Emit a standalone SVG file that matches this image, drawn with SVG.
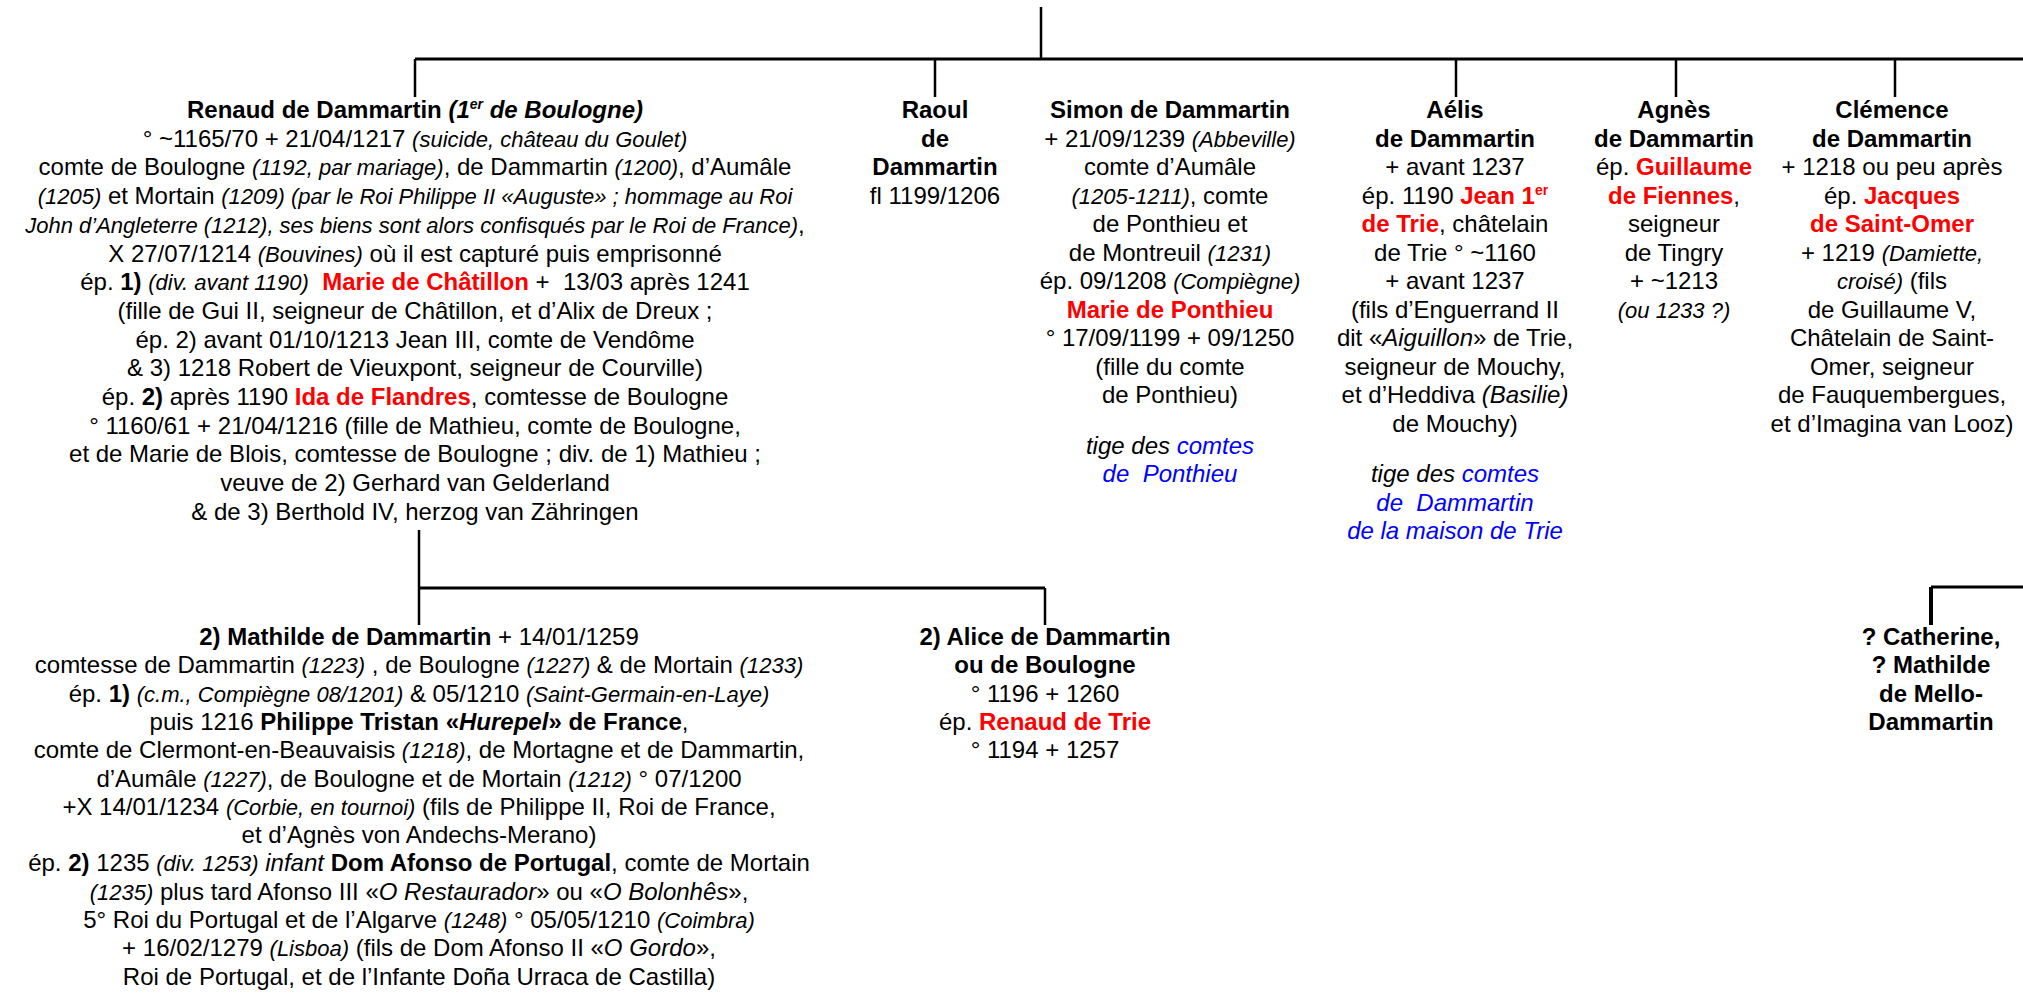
<svg xmlns="http://www.w3.org/2000/svg" width="2023" height="995" viewBox="0 0 2023 995">
<style>
text{font-family:"Liberation Sans",Arial,sans-serif;font-size:24px;text-anchor:middle;fill:#000}
.b{font-weight:bold}
.s{font-style:italic;font-size:22px}
.i{font-style:italic}
.r{fill:#f00;font-weight:bold}
.u{fill:#00f;font-style:italic}
.sup{font-size:14px}
.pre{white-space:pre}
.ln{stroke:#000;fill:none;stroke-width:2.5}
.h{stroke-width:3}
</style>
<rect width="2023" height="995" fill="#fff"/>
<g id="connectors">
<path class="ln" d="M1041 7V59"/>
<path class="ln h" d="M415 59H2023"/>
<path class="ln" d="M415 59V97M935 59V97M1456 59V97M1676 59V97M1895 59V97"/>
<path class="ln" d="M419 530V625M1045 588V625"/>
<path class="ln h" d="M419 588H1045"/>
<path class="ln h" d="M1931 587H2023"/>
<path class="ln" style="stroke-width:4" d="M1931 587V625"/>
</g>
<g id="renaud">
<text x="415" y="118" class="b">Renaud de Dammartin <tspan class="i">(1<tspan class="sup" dy="-9">er</tspan><tspan dy="9"> de Boulogne)</tspan></tspan></text>
<text x="415" y="146.7">° ~1165/70 + 21/04/1217 <tspan class="s">(suicide, château du Goulet)</tspan></text>
<text x="415" y="175.4">comte de Boulogne <tspan class="s">(1192, par mariage)</tspan>, de Dammartin <tspan class="s">(1200)</tspan>, d’Aumâle</text>
<text x="415" y="204.1"><tspan class="s">(1205)</tspan> et Mortain <tspan class="s">(1209) (par le Roi Philippe II «Auguste» ; hommage au Roi</tspan></text>
<text x="415" y="232.8"><tspan class="s">John d’Angleterre (1212), ses biens sont alors confisqués par le Roi de France)</tspan>,</text>
<text x="415" y="261.5">X 27/07/1214 <tspan class="s">(Bouvines)</tspan> où il est capturé puis emprisonné</text>
<text x="415" y="290.2" class="pre">ép. <tspan class="b">1)</tspan> <tspan class="s">(div. avant 1190)</tspan>  <tspan class="r">Marie de Châtillon</tspan> +  13/03 après 1241</text>
<text x="415" y="318.9">(fille de Gui II, seigneur de Châtillon, et d’Alix de Dreux ;</text>
<text x="415" y="347.6">ép. 2) avant 01/10/1213 Jean III, comte de Vendôme</text>
<text x="415" y="376.3">&amp; 3) 1218 Robert de Vieuxpont, seigneur de Courville)</text>
<text x="415" y="405">ép. <tspan class="b">2)</tspan> après 1190 <tspan class="r">Ida de Flandres</tspan>, comtesse de Boulogne</text>
<text x="415" y="433.7">° 1160/61 + 21/04/1216 (fille de Mathieu, comte de Boulogne,</text>
<text x="415" y="462.4">et de Marie de Blois, comtesse de Boulogne ; div. de 1) Mathieu ;</text>
<text x="415" y="491.1">veuve de 2) Gerhard van Gelderland</text>
<text x="415" y="519.8">&amp; de 3) Berthold IV, herzog van Zähringen</text>
</g>
<g id="raoul">
<text x="935" y="118" class="b">Raoul</text>
<text x="935" y="146.5" class="b">de</text>
<text x="935" y="175" class="b">Dammartin</text>
<text x="935" y="203.5">fl 1199/1206</text>
</g>
<g id="simon">
<text x="1170" y="118" class="b">Simon de Dammartin</text>
<text x="1170" y="146.5">+ 21/09/1239 <tspan class="s">(Abbeville)</tspan></text>
<text x="1170" y="175">comte d’Aumâle</text>
<text x="1170" y="203.5"><tspan class="s">(1205-1211)</tspan>, comte</text>
<text x="1170" y="232">de Ponthieu et</text>
<text x="1170" y="260.5">de Montreuil <tspan class="s">(1231)</tspan></text>
<text x="1170" y="289">ép. 09/1208 <tspan class="s">(Compiègne)</tspan></text>
<text x="1170" y="317.5" class="r">Marie de Ponthieu</text>
<text x="1170" y="346">° 17/09/1199 + 09/1250</text>
<text x="1170" y="374.5">(fille du comte</text>
<text x="1170" y="403">de Ponthieu)</text>
<text x="1170" y="454" class="i">tige des <tspan class="u">comtes</tspan></text>
<text x="1170" y="482" class="u pre">de  Ponthieu</text>
</g>
<g id="aelis">
<text x="1455" y="118" class="b">Aélis</text>
<text x="1455" y="146.5" class="b">de Dammartin</text>
<text x="1455" y="175">+ avant 1237</text>
<text x="1455" y="203.5">ép. 1190 <tspan class="r">Jean 1<tspan class="sup" dy="-9">er</tspan></tspan></text>
<text x="1455" y="232"><tspan class="r">de Trie</tspan>, châtelain</text>
<text x="1455" y="260.5">de Trie ° ~1160</text>
<text x="1455" y="289">+ avant 1237</text>
<text x="1455" y="317.5">(fils d’Enguerrand II</text>
<text x="1455" y="346">dit «<tspan class="i">Aiguillon</tspan>» de Trie,</text>
<text x="1455" y="374.5">seigneur de Mouchy,</text>
<text x="1455" y="403">et d’Heddiva <tspan class="i">(Basilie)</tspan></text>
<text x="1455" y="431.5">de Mouchy)</text>
<text x="1455" y="482" class="i">tige des <tspan class="u">comtes</tspan></text>
<text x="1455" y="510.5" class="u pre">de  Dammartin</text>
<text x="1455" y="539" class="u">de la maison de Trie</text>
</g>
<g id="agnes">
<text x="1674" y="118" class="b">Agnès</text>
<text x="1674" y="146.5" class="b">de Dammartin</text>
<text x="1674" y="175">ép. <tspan class="r">Guillaume</tspan></text>
<text x="1674" y="203.5"><tspan class="r">de Fiennes</tspan>,</text>
<text x="1674" y="232">seigneur</text>
<text x="1674" y="260.5">de Tingry</text>
<text x="1674" y="289">+ ~1213</text>
<text x="1674" y="317.5" class="s">(ou 1233 ?)</text>
</g>
<g id="clemence">
<text x="1892" y="118" class="b">Clémence</text>
<text x="1892" y="146.5" class="b">de Dammartin</text>
<text x="1892" y="175">+ 1218 ou peu après</text>
<text x="1892" y="203.5">ép. <tspan class="r">Jacques</tspan></text>
<text x="1892" y="232" class="r">de Saint-Omer</text>
<text x="1892" y="260.5">+ 1219 <tspan class="s">(Damiette,</tspan></text>
<text x="1892" y="289"><tspan class="s">croisé)</tspan> (fils</text>
<text x="1892" y="317.5">de Guillaume V,</text>
<text x="1892" y="346">Châtelain de Saint-</text>
<text x="1892" y="374.5">Omer, seigneur</text>
<text x="1892" y="403">de Fauquembergues,</text>
<text x="1892" y="431.5">et d’Imagina van Looz)</text>
</g>
<g id="mathilde">
<text x="419" y="645"><tspan class="b">2) Mathilde de Dammartin</tspan> + 14/01/1259</text>
<text x="419" y="673.3">comtesse de Dammartin <tspan class="s">(1223)</tspan> , de Boulogne <tspan class="s">(1227)</tspan> &amp; de Mortain <tspan class="s">(1233)</tspan></text>
<text x="419" y="701.6">ép. <tspan class="b">1)</tspan> <tspan class="s">(c.m., Compiègne 08/1201)</tspan> &amp; 05/1210 <tspan class="s">(Saint-Germain-en-Laye)</tspan></text>
<text x="419" y="729.9">puis 1216 <tspan class="b">Philippe Tristan «<tspan class="i">Hurepel</tspan>» de France</tspan>,</text>
<text x="419" y="758.2">comte de Clermont-en-Beauvaisis <tspan class="s">(1218)</tspan>, de Mortagne et de Dammartin,</text>
<text x="419" y="786.5">d’Aumâle <tspan class="s">(1227)</tspan>, de Boulogne et de Mortain <tspan class="s">(1212)</tspan> ° 07/1200</text>
<text x="419" y="814.8">+X 14/01/1234 <tspan class="s">(Corbie, en tournoi)</tspan> (fils de Philippe II, Roi de France,</text>
<text x="419" y="843.1">et d’Agnès von Andechs-Merano)</text>
<text x="419" y="871.4">ép. <tspan class="b">2)</tspan> 1235 <tspan class="s">(div. 1253)</tspan> <tspan class="i">infant</tspan> <tspan class="b">Dom Afonso de Portugal</tspan>, comte de Mortain</text>
<text x="419" y="899.7"><tspan class="s">(1235)</tspan> plus tard Afonso III «<tspan class="i">O Restaurador</tspan>» ou «<tspan class="i">O Bolonhês</tspan>»,</text>
<text x="419" y="928">5° Roi du Portugal et de l’Algarve <tspan class="s">(1248)</tspan> ° 05/05/1210 <tspan class="s">(Coimbra)</tspan></text>
<text x="419" y="956.3">+ 16/02/1279 <tspan class="s">(Lisboa)</tspan> (fils de Dom Afonso II «<tspan class="i">O Gordo</tspan>»,</text>
<text x="419" y="984.6">Roi de Portugal, et de l’Infante Doña Urraca de Castilla)</text>
</g>
<g id="alice">
<text x="1045" y="645" class="b">2) Alice de Dammartin</text>
<text x="1045" y="673.3" class="b">ou de Boulogne</text>
<text x="1045" y="701.6">° 1196 + 1260</text>
<text x="1045" y="729.9">ép. <tspan class="r">Renaud de Trie</tspan></text>
<text x="1045" y="758.2">° 1194 + 1257</text>
</g>
<g id="catherine">
<text x="1931" y="645" class="b">? Catherine,</text>
<text x="1931" y="673.3" class="b">? Mathilde</text>
<text x="1931" y="701.6" class="b">de Mello-</text>
<text x="1931" y="729.9" class="b">Dammartin</text>
</g>
</svg>
